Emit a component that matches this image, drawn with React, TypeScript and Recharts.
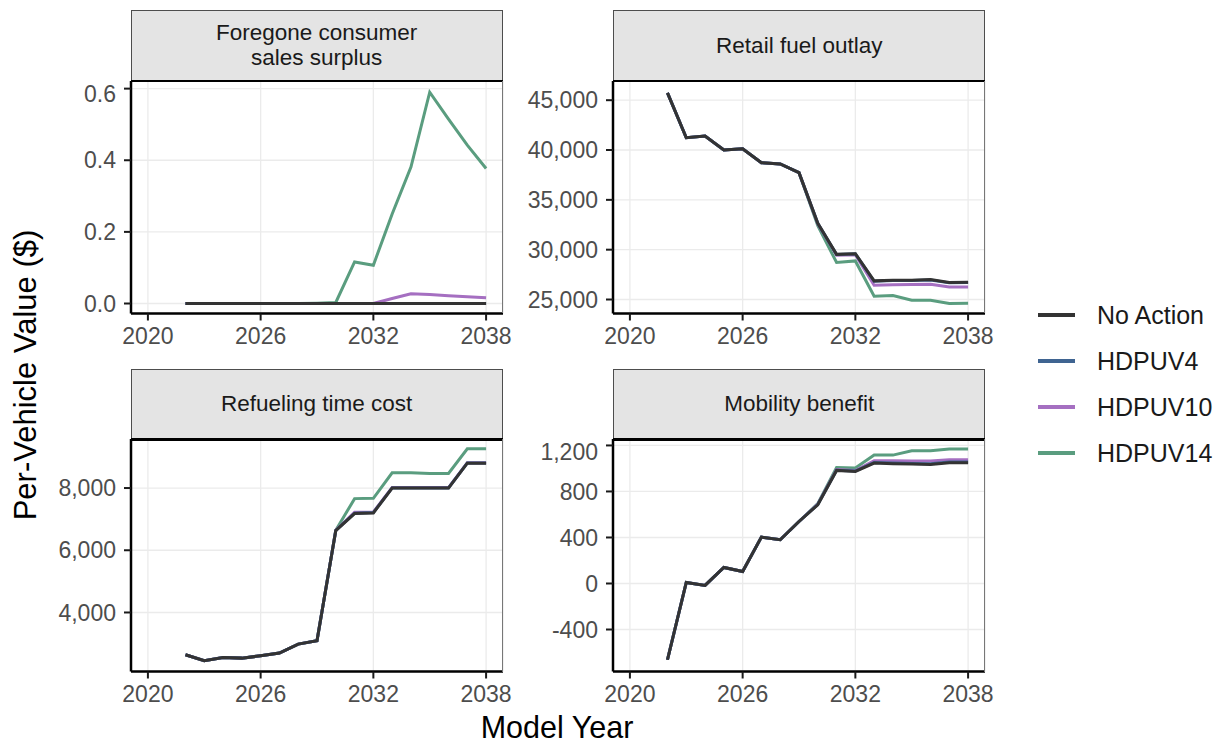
import React from 'react'
import { LineChart, Line, XAxis, YAxis, CartesianGrid } from 'recharts'

// model years shown in every facet
const years = [2022, 2023, 2024, 2025, 2026, 2027, 2028, 2029, 2030, 2031, 2032, 2033, 2034, 2035, 2036, 2037, 2038]
const xTicks = [2020, 2026, 2032, 2038]

// Foregone consumer sales surplus
const surplusNoAction = [0, 0, 0, 0, 0, 0, 0, 0, 0, 0, 0, 0, 0, 0, 0, 0, 0]
const surplusHdpuv4 = [0, 0, 0, 0, 0, 0, 0, 0, 0, 0, 0, 0, 0, 0, 0, 0, 0]
const surplusHdpuv10 = [0, 0, 0, 0, 0, 0, 0, 0, 0, 0, 0, 0.014, 0.027, 0.025, 0.022, 0.019, 0.016]
const surplusHdpuv14 = [0, 0, 0, 0, 0, 0, 0, 0.001, 0.003, 0.116, 0.107, 0.25, 0.381, 0.59, 0.515, 0.442, 0.377]
const surplusTicks = [0, 0.2, 0.4, 0.6]

// Retail fuel outlay
const fuelNoAction = [45730, 41230, 41400, 40000, 40130, 38730, 38600, 37730, 32650, 29530, 29600, 26870, 26940, 26940, 27000, 26710, 26740]
const fuelHdpuv4 = [45730, 41230, 41400, 40000, 40130, 38730, 38600, 37730, 32640, 29510, 29580, 26830, 26900, 26900, 26960, 26670, 26700]
const fuelHdpuv10 = [45730, 41230, 41400, 40000, 40130, 38730, 38600, 37730, 32600, 29450, 29500, 26430, 26480, 26500, 26520, 26260, 26260]
const fuelHdpuv14 = [45730, 41230, 41400, 40000, 40130, 38730, 38600, 37730, 32420, 28710, 28870, 25330, 25400, 24930, 24930, 24600, 24630]
const fuelTicks = [25000, 30000, 35000, 40000, 45000]

// Refueling time cost
const refuelNoAction = [2640, 2447, 2553, 2533, 2608, 2695, 2984, 3090, 6633, 7180, 7200, 8000, 8000, 8000, 8000, 8800, 8800]
const refuelHdpuv4 = [2640, 2447, 2553, 2533, 2608, 2695, 2984, 3090, 6635, 7190, 7210, 8005, 8005, 8005, 8005, 8805, 8805]
const refuelHdpuv10 = [2640, 2447, 2553, 2533, 2608, 2695, 2984, 3090, 6640, 7220, 7230, 8015, 8015, 8015, 8015, 8815, 8815]
const refuelHdpuv14 = [2640, 2447, 2553, 2533, 2608, 2695, 2984, 3090, 6640, 7660, 7670, 8490, 8490, 8470, 8470, 9260, 9260]
const refuelTicks = [4000, 6000, 8000]

// Mobility benefit
const mobilityNoAction = [-663, 9, -17, 139, 104, 403, 380, 539, 684, 983, 974, 1047, 1041, 1038, 1035, 1050, 1050]
const mobilityHdpuv4 = [-663, 9, -17, 139, 104, 403, 380, 539, 686, 985, 977, 1052, 1047, 1044, 1041, 1056, 1056]
const mobilityHdpuv10 = [-663, 9, -17, 139, 104, 403, 380, 539, 690, 990, 982, 1067, 1066, 1065, 1065, 1076, 1076]
const mobilityHdpuv14 = [-663, 9, -17, 139, 104, 403, 380, 539, 694, 1009, 1003, 1116, 1116, 1154, 1154, 1168, 1168]
const mobilityTicks = [-400, 0, 400, 800, 1200]

const SERIES = [
  { key: 'noAction', name: 'No Action', color: '#333333' },
  { key: 'hdpuv4', name: 'HDPUV4', color: '#3f6491' },
  { key: 'hdpuv10', name: 'HDPUV10', color: '#a56fc1' },
  { key: 'hdpuv14', name: 'HDPUV14', color: '#5a9d7f' },
]

const FONT = '"Liberation Sans", Arial, Helvetica, sans-serif'

const build = (a: number[], b: number[], c: number[], d: number[]) =>
  years.map((year, i) => ({ year, noAction: a[i], hdpuv4: b[i], hdpuv10: c[i], hdpuv14: d[i] }))

const commas = (v: number) => v.toLocaleString('en-US')

const PANELS = [
  {
    title: ['Foregone consumer', 'sales surplus'],
    data: build(surplusNoAction, surplusHdpuv4, surplusHdpuv10, surplusHdpuv14),
    ticks: surplusTicks,
    domain: [-0.0279, 0.6213],
    fmt: (v: number) => v.toFixed(1),
    left: 130.7,
    top: 80.7,
  },
  {
    title: ['Retail fuel outlay'],
    data: build(fuelNoAction, fuelHdpuv4, fuelHdpuv10, fuelHdpuv14),
    ticks: fuelTicks,
    domain: [23596, 46926],
    fmt: commas,
    left: 613.3,
    top: 80.7,
  },
  {
    title: ['Refueling time cost'],
    data: build(refuelNoAction, refuelHdpuv4, refuelHdpuv10, refuelHdpuv14),
    ticks: refuelTicks,
    domain: [2103, 9576],
    fmt: commas,
    left: 130.7,
    top: 439.3,
  },
  {
    title: ['Mobility benefit'],
    data: build(mobilityNoAction, mobilityHdpuv4, mobilityHdpuv10, mobilityHdpuv14),
    ticks: mobilityTicks,
    domain: [-765, 1256],
    fmt: commas,
    left: 613.3,
    top: 439.3,
  },
]

const PLOT_W = 372
const PLOT_H = 232.5
const STRIP_H = 70.7
const Y_W = 110
const X_H = 50
const PAD_R = 30 // room for the last x tick label

// draw order: policy cases first so No Action sits on top
const drawOrder = [...SERIES].reverse()

function Panel({ p }: { p: (typeof PANELS)[number] }) {
  const tickStyle = { fill: '#4d4d4d', fontSize: 23, fontFamily: FONT }
  return (
    <>
      <div
        style={{
          position: 'absolute',
          left: p.left,
          top: p.top - STRIP_H,
          width: PLOT_W,
          height: STRIP_H,
          boxSizing: 'border-box',
          background: '#e4e4e4',
          border: '1px solid #4d4d4d',
          display: 'flex',
          flexDirection: 'column',
          alignItems: 'center',
          justifyContent: 'center',
          fontFamily: FONT,
          fontSize: 22.5,
          lineHeight: '25px',
          color: '#1a1a1a',
        }}
      >
        {p.title.map((t) => (
          <div key={t}>{t}</div>
        ))}
      </div>
      <div style={{ position: 'absolute', left: p.left - Y_W, top: p.top }}>
        <LineChart
          width={Y_W + PLOT_W + PAD_R}
          height={PLOT_H + X_H}
          data={p.data}
          margin={{ top: 0, right: PAD_R, bottom: 0, left: 0 }}
        >
          <CartesianGrid stroke="#ebebeb" strokeWidth={1.3} />
          <XAxis
            dataKey="year"
            type="number"
            domain={[2019.1, 2038.9]}
            ticks={xTicks}
            allowDataOverflow
            height={X_H}
            tick={tickStyle}
            tickSize={7}
            tickMargin={7}
            axisLine={{ stroke: '#000', strokeWidth: 2.5 }}
            tickLine={{ stroke: '#1a1a1a', strokeWidth: 2 }}
          />
          <YAxis
            type="number"
            domain={p.domain}
            ticks={p.ticks}
            allowDataOverflow
            width={Y_W}
            tick={tickStyle}
            tickFormatter={p.fmt}
            tickSize={7}
            tickMargin={8}
            axisLine={{ stroke: '#000', strokeWidth: 2.5 }}
            tickLine={{ stroke: '#1a1a1a', strokeWidth: 2 }}
          />
          {drawOrder.map((s) => (
            <Line
              key={s.key}
              dataKey={s.key}
              name={s.name}
              stroke={s.color}
              strokeWidth={3}
              dot={false}
              isAnimationActive={false}
            />
          ))}
        </LineChart>
      </div>
      {/* top and right panel edges */}
      <div style={{ position: 'absolute', left: p.left, top: p.top - 1, width: PLOT_W, height: 2.5, background: '#000' }} />
      <div style={{ position: 'absolute', left: p.left + PLOT_W - 1, top: p.top, width: 1, height: PLOT_H, background: '#777' }} />
    </>
  )
}

export default function App() {
  return (
    <div style={{ position: 'absolute', left: 0, top: 0, width: 1221, height: 745, background: '#fff', fontFamily: FONT }}>
      {PANELS.map((p, i) => (
        <Panel key={i} p={p} />
      ))}
      <div
        style={{
          position: 'absolute',
          left: 26,
          top: 375,
          transform: 'translate(-50%, -50%) rotate(-90deg)',
          whiteSpace: 'nowrap',
          fontSize: 31,
          color: '#000',
        }}
      >
        Per-Vehicle Value ($)
      </div>
      <div
        style={{
          position: 'absolute',
          left: 557,
          top: 727,
          transform: 'translate(-50%, -50%)',
          whiteSpace: 'nowrap',
          fontSize: 30.5,
          color: '#000',
        }}
      >
        Model Year
      </div>
      {SERIES.map((s, i) => (
        <div key={s.key} style={{ position: 'absolute', left: 1038, top: 315 + i * 46, height: 0 }}>
          <div style={{ position: 'absolute', left: 0, top: -1.75, width: 37, height: 3.5, background: s.color }} />
          <div
            style={{
              position: 'absolute',
              left: 59,
              top: 0,
              transform: 'translateY(-50%)',
              whiteSpace: 'nowrap',
              fontSize: 25,
              color: '#1a1a1a',
            }}
          >
            {s.name}
          </div>
        </div>
      ))}
    </div>
  )
}
